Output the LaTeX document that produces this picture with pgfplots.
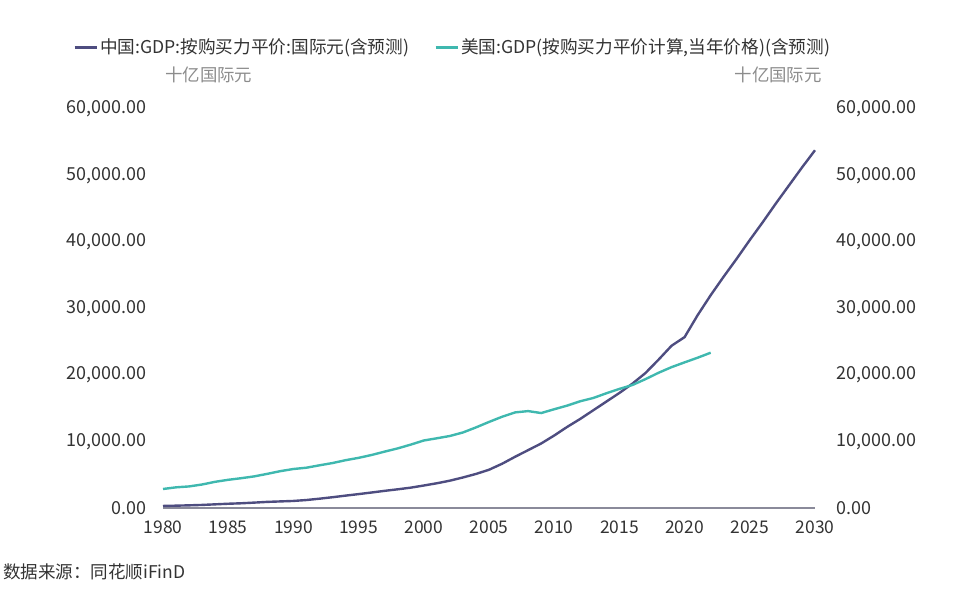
\documentclass[border=0pt]{standalone}
\usepackage{fontspec}
\setmainfont{Noto Sans CJK SC}
\usepackage{pgfplots}
\pgfplotsset{compat=1.18}
\definecolor{cn}{HTML}{4E4D80}
\definecolor{us}{HTML}{3FB8AF}
\definecolor{tk}{HTML}{333333}
\definecolor{unit}{HTML}{8C8C8C}
\definecolor{axl}{HTML}{8A8A9A}
\pgfplotstableread{
year val
1980 305
1981 350
1982 400
1983 460
1984 550
1985 640
1986 710
1987 810
1988 920
1989 990
1990 1060
1991 1200
1992 1400
1993 1620
1994 1860
1995 2090
1996 2330
1997 2580
1998 2810
1999 3060
2000 3380
2001 3720
2002 4110
2003 4590
2004 5120
2005 5750
2006 6650
2007 7700
2008 8700
2009 9700
2010 10900
2011 12200
2012 13400
2013 14700
2014 16000
2015 17300
2016 18700
2017 20300
2018 22300
2019 24400
2020 25700
2021 29000
2022 32000
2023 34800
2024 37500
2025 40300
2026 43000
2027 45800
2028 48500
2029 51200
2030 53800
}\china
\pgfplotstableread{
year val
1980 2857
1981 3107
1982 3244
1983 3534
1984 3937
1985 4239
1986 4480
1987 4755
1988 5136
1989 5542
1990 5863
1991 6058
1992 6420
1993 6759
1994 7187
1995 7540
1996 7973
1997 8478
1998 8963
1999 9531
2000 10151
2001 10482
2002 10829
2003 11357
2004 12117
2005 12939
2006 13716
2007 14374
2008 14570
2009 14278
2010 14849
2011 15400
2012 16054
2013 16543
2014 17251
2015 17906
2016 18495
2017 19377
2018 20333
2019 21181
2020 21900
2021 22600
2022 23350
}\usa
\pgfplotsset{
  base/.style={
    at={(163bp,82bp)}, anchor=south west, scale only axis,
    width=652bp, height=399bp,
    xmin=1980, xmax=2030, ymin=0, ymax=60000,
    ytick={0,10000,...,60000},
    scaled y ticks=false,
    yticklabel style={/pgf/number format/fixed, /pgf/number format/fixed zerofill, /pgf/number format/precision=2, /pgf/number format/1000 sep={,}, /pgf/number format/assume math mode=true, font=\fontsize{18}{21}\selectfont},
    major tick length=0pt,
    tick label style={font=\fontsize{17.5}{20}\selectfont, text=tk},
  }
}
\begin{document}
\begin{tikzpicture}[x=1bp,y=1bp]
\path[use as bounding box] (0,0) rectangle (960,590);
\begin{axis}[base,
  axis x line*=bottom, axis y line*=left,
  y axis line style={draw=none},
  x axis line style={draw=axl, line width=1.5bp, -},
  xtick={1980,1985,...,2030},
  xticklabel style={/pgf/number format/1000 sep={}, /pgf/number format/assume math mode=true, yshift=-9bp},
  yticklabel style={xshift=-13bp},
  legend columns=2,
  legend style={draw=none, fill=none, at={(rel axis cs:-0.135,1.155)}, anchor=west, xshift=-5bp,
    font=\fontsize{17.7}{20}\selectfont, text=tk,
    /tikz/every even column/.append style={column sep=23bp}},
  legend image code/.code={\draw[#1, line width=3bp] (0bp,0bp) -- (22bp,0bp);},
  clip=false,
]
\addplot[cn, line width=2.4bp] table[x=year,y=val] {\china};
\addlegendentry{中国:GDP:按购买力平价:国际元(含预测)}
\addplot[us, line width=2.4bp] table[x=year,y=val] {\usa};
\addlegendentry{美国:GDP(按购买力平价计算,当年价格)(含预测)}
\node[anchor=west, text=unit, font=\fontsize{17.5}{20}\selectfont, inner sep=0] at ([yshift=34bp,xshift=2bp]rel axis cs:0,1) {十亿国际元};
\node[anchor=east, text=unit, font=\fontsize{17.5}{20}\selectfont, inner sep=0] at ([yshift=34bp,xshift=7bp]rel axis cs:1,1) {十亿国际元};
\end{axis}
\begin{axis}[base,
  axis y line*=right, axis x line=none,
  y axis line style={draw=none},
  yticklabel style={xshift=18bp},
  xtick=\empty,
]
\addplot[draw=none] coordinates {(1980,0)};
\end{axis}
\node[anchor=west, text=tk, font=\fontsize{17.6}{20}\selectfont, inner sep=0] at (3,18) {数据来源：同花顺iFinD};
\end{tikzpicture}
\end{document}
